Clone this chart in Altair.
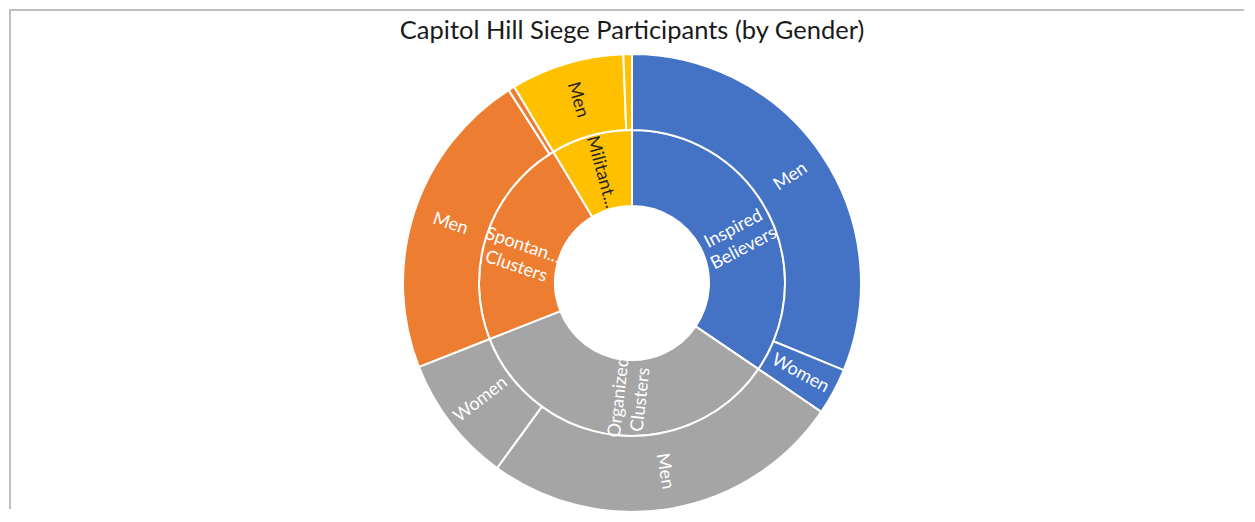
import altair as alt
import pandas as pd

# ---- data (share of participants, %) ----
categories = ["Inspired Believers", "Organized Clusters", "Spontaneous Clusters", "Militant Networks"]
category_labels = ["Inspired\nBelievers", "Organized\nClusters", "Spontan...\nClusters", "Militant..."]
genders = ["Men", "Women"]
men = [31.2, 25.5, 21.9, 8.0]
women = [3.3, 9.0, 0.45, 0.6]
men_labels = ["Men", "Men", "Men", "Men"]
women_labels = ["Women", "Women", "", ""]
title_text = "Capitol Hill Siege Participants (by Gender)"

# ---- styles ----
colors = ["#4472C4", "#A5A5A5", "#ED7D31", "#FFC000"]
FONT = "Lato"
W, H = 1235, 500
CX, CY = 623, 274
R0, R1, R2 = 77, 153, 229


def radial_rotation(mid_deg):
    r = mid_deg - 90
    if r > 90:
        r -= 180
    return r % 360


# outer ring table
outer_rows = []
for i, c in enumerate(categories):
    outer_rows.append(dict(category=c, gender="Men", value=men[i], label=men_labels[i]))
    outer_rows.append(dict(category=c, gender="Women", value=women[i], label=women_labels[i]))
outer = pd.DataFrame(outer_rows)
outer["idx"] = range(len(outer))
total = outer["value"].sum()
cum = outer["value"].cumsum()
outer["rot"] = [radial_rotation((c - v / 2) / total * 360) for c, v in zip(cum, outer["value"])]

# inner ring table
inner = pd.DataFrame(dict(category=categories, label=category_labels,
                          value=[m + w for m, w in zip(men, women)]))
inner["idx"] = range(len(inner))
icum = inner["value"].cumsum()
inner["rot"] = [radial_rotation((c - v / 2) / total * 360) for c, v in zip(icum, inner["value"])]

color_enc = alt.Color("category:N", scale=alt.Scale(domain=categories, range=colors), legend=None)
text_color = alt.condition(alt.datum.category == "Militant Networks",
                           alt.value("#262626"), alt.value("#FFFFFF"))

inner_base = alt.Chart(inner).encode(
    theta=alt.Theta("value:Q", stack=True),
    order=alt.Order("idx:Q"),
    x=alt.value(CX), y=alt.value(CY),
)
outer_base = alt.Chart(outer).encode(
    theta=alt.Theta("value:Q", stack=True),
    order=alt.Order("idx:Q"),
    x=alt.value(CX), y=alt.value(CY),
)

inner_arc = inner_base.mark_arc(innerRadius=R0, outerRadius=R1, stroke="white", strokeWidth=2).encode(color=color_enc)
outer_arc = outer_base.mark_arc(innerRadius=R1, outerRadius=R2, stroke="white", strokeWidth=2).encode(color=color_enc)

inner_text = inner_base.mark_text(radius=(R0 + R1) / 2, font=FONT, fontSize=18, lineBreak="\n",
                                  lineHeight=22, align="center", baseline="middle").encode(
    text="label:N", angle=alt.Angle("rot:Q", scale=None), color=text_color)
outer_text = outer_base.mark_text(radius=(R1 + R2) / 2, font=FONT, fontSize=18,
                                  align="center", baseline="middle").encode(
    text="label:N", angle=alt.Angle("rot:Q", scale=None), color=text_color)

title_df = pd.DataFrame({"t": [title_text]})
title = alt.Chart(title_df).mark_text(font=FONT, fontSize=25.5, color="#1a1a1a",
                                      align="center", baseline="middle").encode(
    text="t:N", x=alt.value(CX), y=alt.value(22))

frame_df = pd.DataFrame({"k": [0]})
top_line = alt.Chart(frame_df).mark_rule(color="#BFBFBF", strokeWidth=2).encode(
    x=alt.value(0), x2=alt.value(W), y=alt.value(1))
left_line = alt.Chart(frame_df).mark_rule(color="#BFBFBF", strokeWidth=2).encode(
    x=alt.value(1), y=alt.value(0), y2=alt.value(H))

chart = alt.layer(top_line, left_line, inner_arc, outer_arc, inner_text, outer_text, title).properties(
    width=W, height=H, padding=0, background="white"
).configure_view(stroke=None)

chart.save("out.html", embed_options={"renderer": "svg", "actions": False})
